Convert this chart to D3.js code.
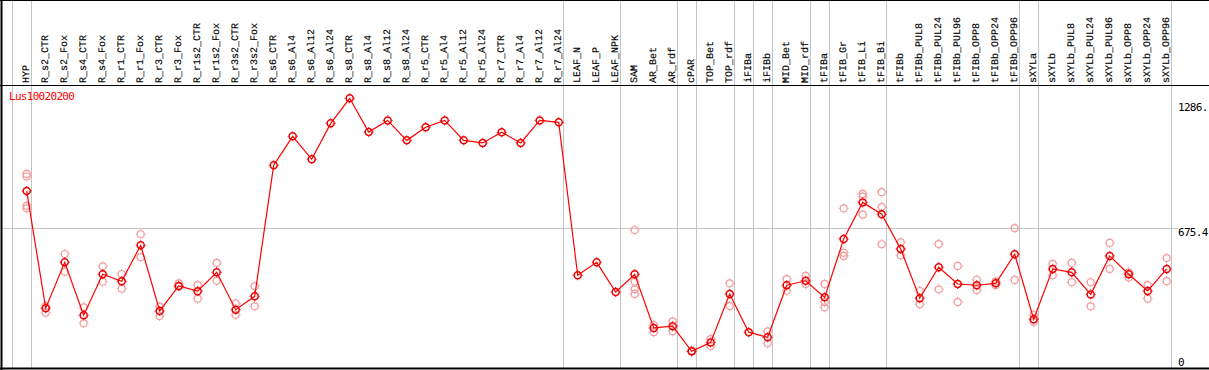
<!DOCTYPE html>
<html>
<head>
<meta charset="utf-8">
<script src="https://cdn.jsdelivr.net/npm/d3@7"></script>
<style>
  body { margin: 0; background: #fff; }
  svg { display: block; }
  text { font-family: "DejaVu Sans Mono", monospace; font-size: 11px; letter-spacing: -0.7px; }
  .lab { font-family: "Liberation Mono", monospace; font-size: 10px; letter-spacing: 0; text-rendering: geometricPrecision; stroke: #000; stroke-width: 0.15px; }
</style>
</head>
<body>
<div id="container"></div>
<script>
const categories = ["HYP","R_s2_CTR","R_s2_Fox","R_s4_CTR","R_s4_Fox","R_r1_CTR","R_r1_Fox","R_r3_CTR","R_r3_Fox",
  "R_r1s2_CTR","R_r1s2_Fox","R_r3s2_CTR","R_r3s2_Fox","R_s6_CTR","R_s6_Al4","R_s6_Al12","R_s6_Al24",
  "R_s8_CTR","R_s8_Al4","R_s8_Al12","R_s8_Al24","R_r5_CTR","R_r5_Al4","R_r5_Al12","R_r5_Al24",
  "R_r7_CTR","R_r7_Al4","R_r7_Al12","R_r7_Al24","LEAF_N","LEAF_P","LEAF_NPK","SAM","AR_Bet","AR_rdf",
  "cPAR","TOP_Bet","TOP_rdf","iFIBa","iFIBb","MID_Bet","MID_rdf","tFIBa","tFIB_Gr","tFIB_Li","tFIB_Bi",
  "tFIBb","tFIBb_PUL8","tFIBb_PUL24","tFIBb_PUL96","tFIBb_OPP8","tFIBb_OPP24","tFIBb_OPP96",
  "sXYLa","sXYLb","sXYLb_PUL8","sXYLb_PUL24","sXYLb_PUL96","sXYLb_OPP8","sXYLb_OPP24","sXYLb_OPP96"]

// mean expression per sample
const meanValues = [850,298,514,265,458,425,594,285,403,378,467,291,354,971,1107,999,1168,
  1286,1127,1182,1088,1150,1182,1088,1076,1126,1076,1182,1173,453,514,374,458,205,213,
  95,137,365,185,161,406,427,349,624,796,740,
  577,345,491,412,406,415,552,246,483,467,363,544,458,379,483]

// replicate values per sample (empty = none shown)
const replicates = [[930,918,780,768],[308,277],[553,470],[302,227],[495,423],[459,390],[646,538],[305,261],[415,399],
  [407,343],[511,427],[321,267],[401,307],[],[],[],[],
  [],[],[],[],[],[],[],[],[],[],[],[],[],[],[],[666,423,387,365],[219,185],[236,189],
  [98,93],[152,120],[415,308],[],[189,133],[435,380],[450,412],[412,327,302],[768,559,544],[836,823,738],[844,774,599],
  [608,547],[379,316],[600,387],[497,327],[432,384],[424,406],[675,431],[266,234],[507,453],[511,420],[420,307],[605,483],[467,442],[407,343],[534,425]]

const groupEnds = ["HYP","R_r7_Al24","LEAF_NPK","AR_rdf","cPAR","TOP_rdf","iFIBa","iFIBb","MID_rdf","tFIBa","tFIB_Bi","tFIBb_OPP96","sXYLa","sXYLb_OPP96"]
const yTicks = [0, 675.4, 1286]
const yTickLabels = ["0", "675.4", "1286."]
const geneName = "Lus10020200"

const W = 1209, H = 370
const svg = d3.select("#container").append("svg").attr("width", W).attr("height", H)
svg.append("rect").attr("width", W).attr("height", H).attr("fill", "#fff")

let x = d3.scalePoint().domain(categories).range([26.7, 1166.7])
let y = d3.scaleLinear().domain([0, 1286]).range([371.5, 98.3])
let step = x.step()

// vertical group separators
let sepX = [x(categories[0]) - step + 4].concat(groupEnds.map(c => x(c) + 4))
svg.selectAll(".sep").data(sepX).enter().append("line")
  .attr("x1", d => Math.round(d) + 0.5).attr("x2", d => Math.round(d) + 0.5)
  .attr("y1", 0).attr("y2", 369)
  .attr("stroke", "#c4c4c4").attr("stroke-width", 1)

// middle horizontal gridline
svg.append("line")
  .attr("x1", 0).attr("x2", 1178)
  .attr("y1", Math.round(y(675.4)) + 0.5).attr("y2", Math.round(y(675.4)) + 0.5)
  .attr("stroke", "#c4c4c4")

// frame
svg.append("line").attr("x1", 0).attr("x2", W).attr("y1", 0.5).attr("y2", 0.5).attr("stroke", "#000")
svg.append("line").attr("x1", 0).attr("x2", W).attr("y1", 85.5).attr("y2", 85.5).attr("stroke", "#000")
svg.append("line").attr("x1", 0).attr("x2", W).attr("y1", 368.5).attr("y2", 368.5).attr("stroke", "#000").attr("stroke-width", 2)
svg.append("line").attr("x1", 1.5).attr("x2", 1.5).attr("y1", 0).attr("y2", H).attr("stroke", "#000").attr("stroke-width", 2)

// category labels, rotated
svg.selectAll(".lab").data(categories).enter().append("text")
  .attr("class", "lab")
  .attr("transform", d => `translate(${Math.round(x(d) + 2)},83) rotate(-90)`)
  .attr("text-anchor", "start")
  .attr("fill", "#000")
  .text(d => d)

// right axis labels
svg.selectAll(".ytick").data(yTicks).enter().append("text")
  .attr("x", 1178)
  .attr("y", d => Math.min(Math.max(y(d), 103), 358) + 8)
  .attr("fill", "#000")
  .text((d, i) => yTickLabels[i])

svg.append("text").attr("x", 9).attr("y", 100).attr("fill", "#ff0000").text(geneName)

function marker(g, cx, cy, color, sw) {
  g.append("circle").attr("cx", cx).attr("cy", cy).attr("r", 3.5)
    .attr("fill", "none").attr("stroke", color).attr("stroke-width", sw)
  let t = [[0,-1],[0,1],[-1,0],[1,0]]
  t.forEach(([dx, dy]) => {
    g.append("line")
      .attr("x1", cx + dx * 4).attr("y1", cy + dy * 4)
      .attr("x2", cx + dx * 5).attr("y2", cy + dy * 5)
      .attr("stroke", color).attr("stroke-width", 1)
  })
}

// replicates
let repG = svg.append("g")
replicates.forEach((reps, i) => {
  reps.forEach(v => marker(repG, x(categories[i]), y(v), "#f29c9c", 1.2))
})

// mean line
let line = d3.line().x((d, i) => x(categories[i])).y(d => y(d))
svg.append("path").datum(meanValues).attr("d", line)
  .attr("fill", "none").attr("stroke", "#ff0000").attr("stroke-width", 1.2)

let meanG = svg.append("g")
meanValues.forEach((v, i) => marker(meanG, x(categories[i]), y(v), "#ee0000", 1.5))
</script>
</body>
</html>
